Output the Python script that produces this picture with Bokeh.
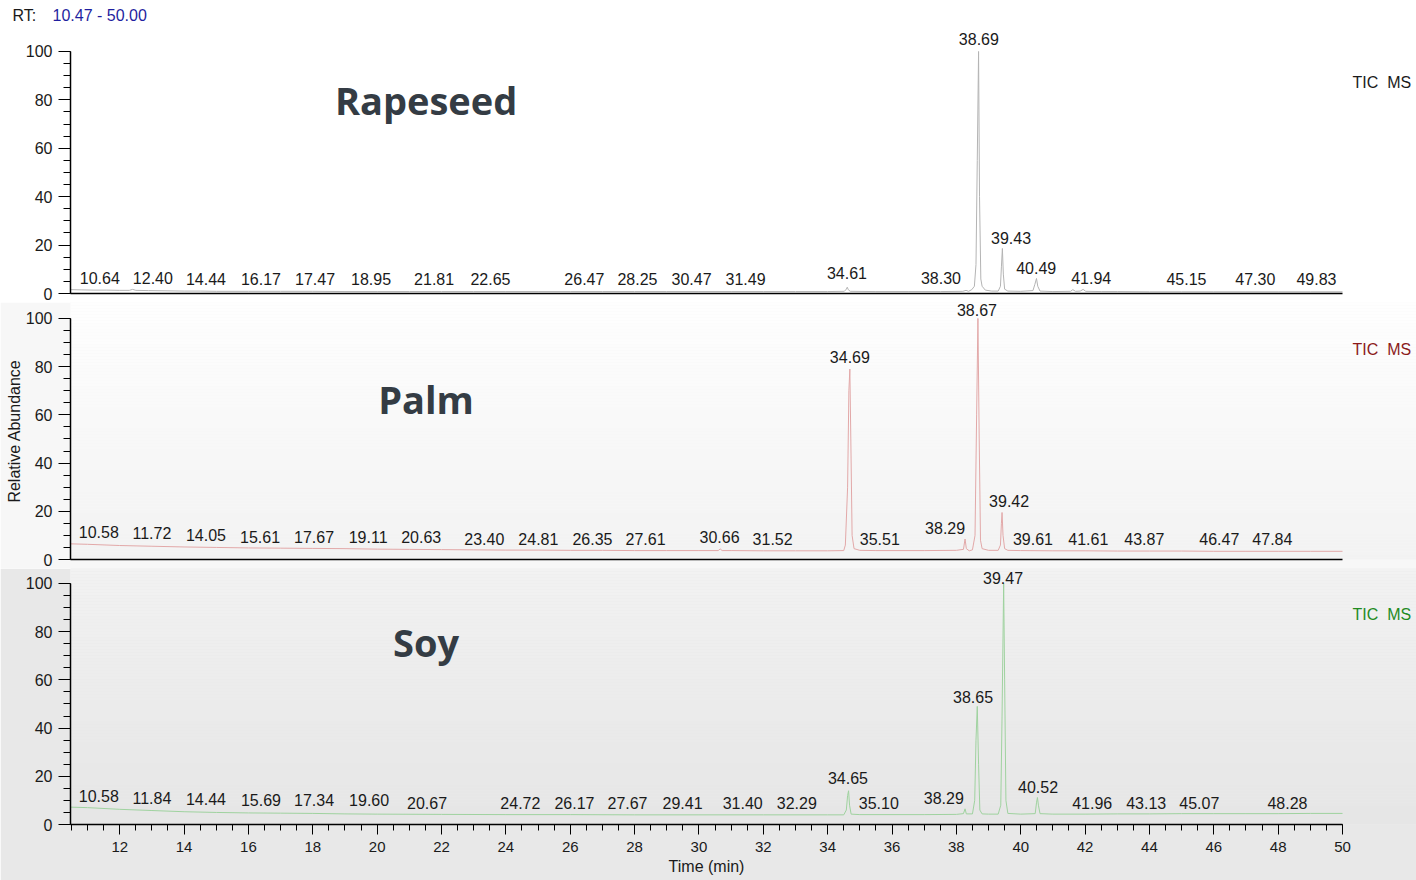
import numpy as np
from bokeh.plotting import figure
from bokeh.models import (Range1d, ColumnDataSource, BoxAnnotation,
                          SingleIntervalTicker, FixedTicker, LinearAxis)
from bokeh.layouts import column
from bokeh.embed import file_html
from bokeh.resources import INLINE
from bokeh.core.properties import value

# ---------------- data ----------------
X_START, X_END = 10.47, 50.00
rt_header = ["RT:", "10.47 - 50.00"]

# Rapeseed (TIC MS)
rape_rt = [10.47, 10.8, 11.2, 11.6, 12.0, 12.3, 12.4, 12.5, 12.9, 13.5, 14.0, 14.5, 15.0,
           16.0, 17.0, 18.0, 19.0, 20.0, 21.0, 22.0, 23.0, 24.0, 25.0, 26.0, 27.0, 28.0,
           29.0, 30.0, 31.0, 32.0, 33.0, 34.0, 34.52, 34.58, 34.61, 34.64, 34.70, 35.5,
           36.5, 37.5, 38.2, 38.30, 38.38, 38.48, 38.56, 38.61, 38.65, 38.69, 38.72, 38.76,
           38.80, 38.90, 39.1, 39.30, 39.37, 39.40, 39.43, 39.46, 39.50, 39.60, 40.0, 40.38,
           40.44, 40.49, 40.53, 40.60, 41.0, 41.55, 41.62, 41.70, 41.85, 41.94, 42.02, 42.5,
           43.0, 44.0, 45.0, 46.0, 47.0, 48.0, 49.0, 50.0]
rape_ab = [1.6, 1.5, 1.4, 1.4, 1.3, 1.3, 1.7, 1.3, 1.2, 1.1, 1.0, 1.0, 0.9,
           0.9, 0.9, 0.9, 0.8, 0.8, 0.8, 0.8, 0.8, 0.8, 0.8, 0.8, 0.8, 0.8,
           0.8, 0.8, 0.8, 0.8, 0.8, 0.8, 0.9, 1.8, 2.6, 1.6, 0.9, 0.8,
           0.8, 0.8, 0.9, 1.3, 0.9, 1.6, 3.0, 12.0, 55.0, 100.0, 40.0, 6.0,
           3.0, 1.4, 1.0, 1.0, 3.0, 11.0, 18.6, 8.0, 1.8, 1.0, 0.9, 1.2,
           3.8, 6.2, 3.0, 1.0, 0.8, 0.9, 1.6, 0.9, 1.0, 1.7, 0.9, 0.8,
           0.8, 0.7, 0.7, 0.7, 0.7, 0.7, 0.7, 0.7]
rape_lbl = ["10.64", "12.40", "14.44", "16.17", "17.47", "18.95", "21.81", "22.65",
            "26.47", "28.25", "30.47", "31.49", "34.61", "38.30", "38.69", "39.43",
            "40.49", "41.94", "45.15", "47.30", "49.83"]
rape_lbl_x = [11.38, 13.03, 14.68, 16.39, 18.07, 19.81, 21.77, 23.52, 26.44, 28.09,
              29.77, 31.45, 34.60, 37.52, 38.70, 39.70, 40.48, 42.19, 45.15, 47.29, 49.19]
rape_lbl_y = [6.6, 6.6, 5.8, 5.8, 5.8, 5.8, 5.8, 5.8, 5.8, 5.8,
              5.8, 5.8, 8.3, 6.6, 105.0, 23.1, 10.7, 6.6, 5.8, 5.8, 5.8]

# Palm (TIC MS)
palm_rt = [10.47, 11.0, 12.0, 13.0, 14.0, 15.0, 16.0, 17.0, 18.0, 19.0, 20.0, 21.0,
           22.0, 23.0, 24.0, 25.0, 26.0, 27.0, 28.0, 29.0, 30.0, 30.6, 30.66, 30.72,
           31.0, 32.0, 33.0, 34.0, 34.50, 34.55, 34.62, 34.66, 34.69, 34.72, 34.76,
           34.82, 35.0, 35.5, 36.0, 37.0, 38.0, 38.22, 38.27, 38.31, 38.40, 38.50,
           38.58, 38.63, 38.67, 38.71, 38.75, 38.80, 39.0, 39.30, 39.37, 39.40, 39.42,
           39.45, 39.50, 39.60, 40.0, 41.0, 42.0, 43.0, 44.0, 45.0, 46.0, 47.0, 48.0,
           49.0, 50.0]
palm_ab = [6.5, 6.3, 5.8, 5.5, 5.2, 5.0, 4.8, 4.7, 4.6, 4.5, 4.3, 4.2,
           4.1, 4.0, 3.9, 3.9, 3.8, 3.8, 3.7, 3.7, 3.7, 3.7, 4.4, 3.7,
           3.7, 3.6, 3.6, 3.6, 3.7, 6.0, 30.0, 70.0, 79.0, 50.0, 10.0,
           4.5, 3.8, 3.7, 3.7, 3.7, 3.8, 4.2, 8.5, 4.5, 3.6, 4.0,
           10.0, 60.0, 100.0, 50.0, 8.0, 4.5, 3.8, 3.8, 6.0, 15.0, 19.5,
           10.0, 4.5, 3.8, 3.7, 3.6, 3.6, 3.5, 3.5, 3.5, 3.4, 3.4, 3.4,
           3.4, 3.4]
palm_lbl = ["10.58", "11.72", "14.05", "15.61", "17.67", "19.11", "20.63", "23.40",
            "24.81", "26.35", "27.61", "30.66", "31.52", "34.69", "35.51", "38.29",
            "38.67", "39.42", "39.61", "41.61", "43.87", "46.47", "47.84"]
palm_lbl_x = [11.35, 13.00, 14.68, 16.36, 18.04, 19.72, 21.37, 23.33, 25.01, 26.69,
              28.34, 30.64, 32.29, 34.69, 35.62, 37.65, 38.64, 39.64, 40.38, 42.10,
              43.84, 46.17, 47.82]
palm_lbl_y = [11.6, 10.8, 10.0, 9.5, 9.5, 9.5, 9.5, 8.7, 8.7, 8.7,
              8.7, 9.5, 8.7, 83.8, 8.7, 12.9, 103.3, 24.1, 8.7, 8.7,
              8.7, 8.7, 8.7]

# Soy (TIC MS)
soy_rt = [10.47, 11.0, 12.0, 13.0, 14.0, 15.0, 16.0, 17.0, 18.0, 19.0, 20.0, 22.0,
          24.0, 26.0, 28.0, 30.0, 32.0, 34.0, 34.50, 34.58, 34.62, 34.65, 34.68, 34.73,
          35.0, 36.0, 37.0, 38.0, 38.22, 38.27, 38.31, 38.50, 38.57, 38.61, 38.65, 38.69,
          38.73, 38.80, 39.0, 39.30, 39.38, 39.42, 39.47, 39.50, 39.54, 39.60, 40.0,
          40.45, 40.49, 40.52, 40.55, 40.60, 41.0, 42.0, 43.0, 44.0, 45.0, 46.0, 47.0,
          48.0, 49.0, 50.0]
soy_ab = [7.2, 7.0, 6.3, 5.8, 5.3, 5.0, 4.8, 4.7, 4.6, 4.4, 4.3, 4.2,
          4.1, 4.1, 4.0, 4.0, 4.0, 4.0, 4.0, 6.0, 12.0, 14.0, 8.0, 4.3,
          4.1, 4.1, 4.1, 4.2, 4.5, 6.5, 4.4, 4.4, 10.0, 35.0, 49.0, 25.0,
          6.0, 4.4, 4.3, 4.3, 8.0, 45.0, 100.0, 60.0, 10.0, 4.6, 4.3,
          4.5, 9.0, 11.2, 8.0, 4.5, 4.3, 4.3, 4.4, 4.4, 4.5, 4.5, 4.5,
          4.5, 4.6, 4.6]
soy_lbl = ["10.58", "11.84", "14.44", "15.69", "17.34", "19.60", "20.67", "24.72",
           "26.17", "27.67", "29.41", "31.40", "32.29", "34.65", "35.10", "38.29",
           "38.65", "39.47", "40.52", "41.96", "43.13", "45.07", "48.28"]
soy_lbl_x = [11.35, 13.00, 14.68, 16.39, 18.04, 19.75, 21.55, 24.45, 26.13, 27.78,
             29.49, 31.36, 33.04, 34.63, 35.59, 37.61, 38.52, 39.45, 40.54, 42.22,
             43.90, 45.55, 48.29]
soy_lbl_y = [12.0, 11.2, 10.4, 10.0, 10.0, 10.0, 9.1, 9.1, 9.1, 9.1,
             9.1, 9.1, 9.1, 19.1, 9.1, 10.8, 53.1, 102.3, 15.4, 9.1,
             9.1, 9.1, 9.1]

samples = ["Rapeseed", "Palm", "Soy"]
trace_tag = "TIC\u00a0\u00a0MS"
x_label = "Time (min)"
y_label = "Relative Abundance"

# ---------------- layout / style ----------------
W = 1416
FONT = "Liberation Sans"
TXT = "#1a1a1a"
PPX = (1342 - 70) / (X_END - X_START)        # px per minute
X_VIEW_END = X_END + (W - 1342) / PPX          # frame extends to the right edge
X_HEAD_START = X_START - 70 / PPX
X_MID = (X_START + X_END) / 2

HEADER_H = 27
# (canvas top, frame height, y_end, min_border_bottom)
specs = [
    (27, 266, 109.9, 9),
    (302, 257, 106.6, 9),
    (568, 256, 106.2, 56),
]
trace_colors = ["#b4b4b4", "#e2a8a8", "#9fd29f"]
tic_colors = ["#1a1a1a", "#8b1a1a", "#1f8b1f"]
title_y = [79.8, 66.4, 75.9]
title_x = 21.52
tag_x = 50.31
tag_y = 87.0

data = [
    (rape_rt, rape_ab, rape_lbl, rape_lbl_x, rape_lbl_y),
    (palm_rt, palm_ab, palm_lbl, palm_lbl_x, palm_lbl_y),
    (soy_rt, soy_ab, soy_lbl, soy_lbl_x, soy_lbl_y),
]


def gray_level(yimg):
    return 255.0 if yimg <= 290 else max(226.0, 255.0 - (yimg - 290) * 0.0475)


def gray_hex(g):
    g = int(round(g))
    return "#%02x%02x%02x" % (g, g, g)


# header with the RT range (frame spans the whole header width)
head = figure(width=W, height=HEADER_H, x_range=Range1d(X_HEAD_START, X_VIEW_END),
              y_range=Range1d(0, 1), output_backend="svg", toolbar_location=None,
              x_axis_location=None, y_axis_location=None, min_border=0,
              background_fill_color="#ffffff", border_fill_color="#ffffff")
head.frame_align = False
head.outline_line_color = None
head.grid.visible = False
head.text(x=[X_HEAD_START + 12 / PPX], y=[0.44], text=[rt_header[0]],
          text_font=value(FONT), text_font_size="16px", text_color=TXT,
          text_align="left", text_baseline="middle")
head.text(x=[X_HEAD_START + 52 / PPX], y=[0.44], text=[rt_header[1]],
          text_font=value(FONT), text_font_size="16px", text_color="#1f1fa0",
          text_align="left", text_baseline="middle")

x_range = Range1d(X_START, X_VIEW_END)
figs = [head]
for i, (top, fh, yend, mbb) in enumerate(specs):
    h = fh + mbb
    if i == 0:
        bcol = "#ffffff"
    elif i == 1:
        bcol = gray_hex(gray_level(top + h * 0.55))
    else:
        bcol = gray_hex(gray_level(770))
    p = figure(width=W, height=h, x_range=x_range, y_range=Range1d(0, yend),
               output_backend="svg", toolbar_location=None,
               min_border_left=70, min_border_right=0,
               min_border_top=0, min_border_bottom=mbb,
               background_fill_color=bcol, border_fill_color=bcol)
    p.outline_line_color = None
    p.grid.visible = False

    # background gradient inside the frame
    zero_img = top + fh
    ppu = fh / yend
    if i > 0:
        step = 3
        y = top - 3
        while y < top + fh + 3:
            v_top = (zero_img - y) / ppu
            v_bot = (zero_img - (y + step)) / ppu
            p.add_layout(BoxAnnotation(left=0, right=80, top=v_top, bottom=v_bot,
                                       fill_color=gray_hex(gray_level(y + step / 2)),
                                       fill_alpha=1.0, line_color=None, level="underlay"))
            y += step

    rt, ab, lbl, lx, ly = data[i]
    p.line(rt, ab, line_color=trace_colors[i], line_width=1)
    src = ColumnDataSource(dict(x=lx, y=ly, t=lbl))
    p.text(x="x", y="y", text="t", source=src, text_font=value(FONT),
           text_font_size="16px", text_align="center", text_baseline="middle",
           text_color=TXT)

    # sample name
    p.text(x=[title_x], y=[title_y[i]], text=[samples[i]], text_font=value("Open Sans"),
           text_font_style="bold", text_font_size="38px", text_color="#343c44",
           text_align="center", text_baseline="middle")
    # trace tag at the right
    p.text(x=[tag_x], y=[tag_y], text=[trace_tag], text_font=value(FONT),
           text_font_size="16px", text_color=tic_colors[i],
           text_align="left", text_baseline="middle")

    # y axis
    ya = p.yaxis[0]
    ya.ticker = SingleIntervalTicker(interval=20, num_minor_ticks=4)
    ya.bounds = (0, 100)
    ya.major_tick_out = 12
    ya.major_tick_in = 0
    ya.minor_tick_out = 7
    ya.minor_tick_in = 0
    ya.major_label_standoff = 6
    ya.major_label_text_font = FONT
    ya.major_label_text_font_size = "16px"
    ya.major_label_text_color = TXT
    ya.axis_line_width = 1.5
    ya.axis_line_color = "#000000"
    ya.major_tick_line_color = "#000000"
    ya.minor_tick_line_color = "#000000"
    if i == 1:
        ya.axis_label = y_label
        ya.axis_label_text_font = FONT
        ya.axis_label_text_font_size = "16px"
        ya.axis_label_text_font_style = "normal"
        ya.axis_label_text_color = TXT
        ya.axis_label_standoff = 0

    # x axis
    xa = p.xaxis[0]
    xa.bounds = (X_START, X_END)
    xa.axis_line_width = 1.5
    xa.axis_line_color = "#000000"
    if i < 2:
        xa.ticker = FixedTicker(ticks=[])
        xa.major_label_text_font_size = "0px"
        xa.major_tick_out = 0
        xa.major_tick_in = 0
        xa.minor_tick_out = 0
        xa.minor_tick_in = 0
        xa.major_label_standoff = 0
    else:
        xa.ticker = SingleIntervalTicker(interval=2, num_minor_ticks=4)
        xa.major_tick_out = 10
        xa.major_tick_in = 0
        xa.minor_tick_out = 6
        xa.minor_tick_in = 0
        xa.major_label_standoff = 7
        xa.major_label_text_font = FONT
        xa.major_label_text_font_size = "15px"
        xa.major_label_text_color = TXT
        xa.major_tick_line_color = "#000000"
        xa.minor_tick_line_color = "#000000"
        # axis title centred under the time axis (not under the wider frame)
        lab_axis = LinearAxis(ticker=FixedTicker(ticks=[X_MID]),
                              major_label_overrides={X_MID: x_label})
        lab_axis.axis_line_color = None
        lab_axis.major_tick_line_color = None
        lab_axis.minor_tick_line_color = None
        lab_axis.major_tick_out = 0
        lab_axis.minor_tick_out = 0
        lab_axis.major_label_standoff = 3
        lab_axis.major_label_text_font = FONT
        lab_axis.major_label_text_font_size = "16px"
        lab_axis.major_label_text_color = TXT
        p.add_layout(lab_axis, "below")
    figs.append(p)

layout = column(*figs, spacing=0)
open("out.html", "w").write(file_html(layout, INLINE))
